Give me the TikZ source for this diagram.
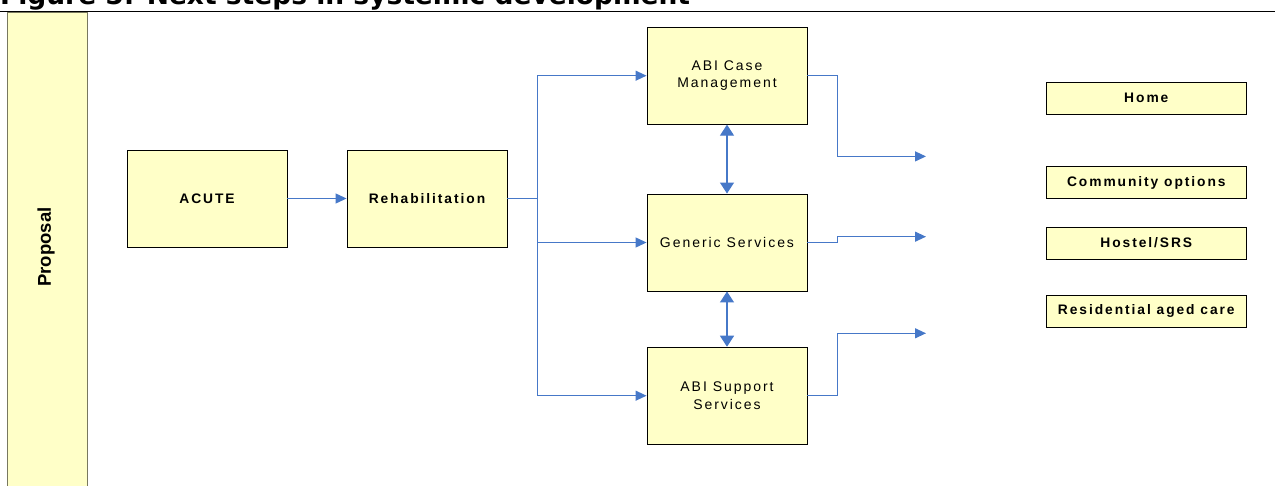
\documentclass[tikz,border=0pt]{standalone}
\usepackage{fontspec}
\setmainfont{Liberation Sans}
\newfontfamily\spaced{Liberation Sans}[LetterSpace=14]
\newfontfamily\titlefont{DejaVu Sans}
\usetikzlibrary{arrows.meta}
\definecolor{boxfill}{RGB}{255,255,200}
\definecolor{propborder}{RGB}{120,120,95}
\definecolor{conn}{RGB}{70,120,200}
\begin{document}
\begin{tikzpicture}[x=1pt,y=-1pt,
  box/.style={draw=black, line width=0.9pt, fill=boxfill, minimum width=160pt, minimum height=97pt, inner sep=0pt, align=center},
  bigbold/.style={font=\spaced\bfseries\fontsize{13.8}{17}\selectfont},
  bigreg/.style={font=\spaced\fontsize{14}{17.3}\selectfont},
  dest/.style={draw=black, line width=0.9pt, fill=boxfill, minimum width=200.7pt, minimum height=32pt, inner sep=0pt, font=\spaced\bfseries\fontsize{13.8}{17}\selectfont},
  link/.style={draw=conn, line width=1.2pt, -{Triangle[length=11pt,width=10pt]}},
  dlink/.style={draw=conn, line width=1.2pt, {Triangle[length=11pt,width=14pt]}-{Triangle[length=11pt,width=14pt]}}
]
\useasboundingbox (0,0) rectangle (1275,486);
% title (cut off at top, as in the reference)
\node[anchor=base west, inner sep=0pt, font=\titlefont\bfseries\fontsize{26.5}{30}\selectfont] (title) at (0,4.8) {Figure 5: Next steps in systemic development};
\draw[line width=1pt] (0,11.5) -- (1275,11.5);
% proposal column
\draw[draw=propborder, line width=1pt, fill=boxfill] (7,12.5) rectangle (87,495);
\node[rotate=90, font=\bfseries\fontsize{18.5}{22}\selectfont] (proposal) at (46,247) {Proposal};
% main boxes
\node[box, bigbold] (acute) at (207,198.5) {ACUTE};
\node[box, bigbold] (rehab) at (427,198.5) {Rehabilitation};
\node[box, bigreg] (abicm) at (727,75.7) {ABI Case\\Management};
\node[box, bigreg] (gen) at (727,242.5) {Generic Services};
\node[box, bigreg] (abiss) at (727,395.7) {ABI Support\\Services};
% destination boxes
\node[dest] (home) at (1146.3,98) {Home};
\node[dest] (comm) at (1146.3,182.5) {Community options};
\node[dest] (hostel) at (1146.3,243) {Hostel/SRS};
\node[dest] (resid) at (1146.3,311.3) {Residential aged care};
% free ends
\coordinate (o1) at (926,156.4);
\coordinate (o2) at (926,236.7);
\coordinate (o3) at (926,333.3);
% connectors
\draw[link] (acute) -- (rehab);
\draw[link] (rehab.east) -- ++(30,0) |- (abicm.west);
\draw[link] (rehab.east) -- ++(30,0) |- (gen.west);
\draw[link] (rehab.east) -- ++(30,0) |- (abiss.west);
\draw[dlink] (abicm) -- (gen);
\draw[dlink] (gen) -- (abiss);
\draw[link] (abicm.east) -- ++(30,0) |- (o1);
\draw[link] (gen.east) -- ++(30,0) |- (o2);
\draw[link] (abiss.east) -- ++(30,0) |- (o3);
\end{tikzpicture}
\end{document}
